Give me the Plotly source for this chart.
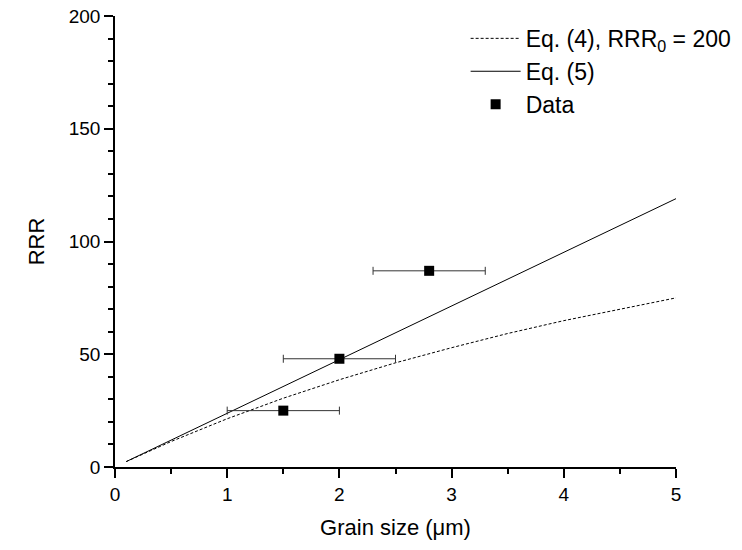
import plotly.graph_objects as go

# Data
eq4_x = [0.1, 0.5, 1.0, 1.5, 2.0, 2.5, 3.0, 3.5, 4.0, 4.5, 5.0]
eq4_y = [2.4, 11.3, 21.4, 30.5, 38.7, 46.2, 52.9, 59.2, 64.9, 70.1, 75.0]
eq5_x = [0.1, 5.0]
eq5_y = [2.4, 119.0]
data_x = [1.5, 2.0, 2.8]
data_y = [25, 48, 87]
data_xerr = [0.5, 0.5, 0.5]

FONT = "Liberation Sans, Arial, sans-serif"

fig = go.Figure()
fig.add_trace(go.Scatter(
    x=eq4_x, y=eq4_y, mode="lines",
    line=dict(color="black", width=1, dash="3px,2px"),
    name="Eq. (4), RRR<sub>0</sub> = 200"))
fig.add_trace(go.Scatter(
    x=eq5_x, y=eq5_y, mode="lines",
    line=dict(color="black", width=1),
    name="Eq. (5)"))
fig.add_trace(go.Scatter(
    x=data_x, y=data_y, mode="markers",
    marker=dict(symbol="square", size=10, color="black"),
    error_x=dict(type="data", array=data_xerr, visible=True,
                 color="#333333", thickness=1, width=4),
    name="Data"))

fig.update_layout(
    width=742, height=550,
    margin=dict(l=115, r=66, t=16, b=83, autoexpand=False),
    paper_bgcolor="white", plot_bgcolor="white",
    font=dict(family=FONT, size=19, color="black"),
    showlegend=True,
    legend=dict(x=0.625, y=0.998, xanchor="left", yanchor="top",
                bgcolor="rgba(0,0,0,0)", font=dict(size=23, family=FONT),
                itemwidth=50, tracegroupgap=0),
)
fig.update_xaxes(
    range=[0, 5], dtick=1, showgrid=False, zeroline=False, automargin=False,
    ticklabeloverflow="allow",
    showline=True, linecolor="black", linewidth=1.5,
    ticks="outside", ticklen=9, tickwidth=1.5, tickcolor="black",
    minor=dict(ticks="outside", ticklen=5, tickwidth=1.5, dtick=0.5, tickcolor="black", showgrid=False),
    tickfont=dict(size=19),
    title=dict(text="Grain size (μm)", font=dict(size=22), standoff=16),
)
fig.update_yaxes(
    range=[0, 200], dtick=50, showgrid=False, zeroline=False, automargin=False,
    ticklabeloverflow="allow",
    showline=True, linecolor="black", linewidth=1.5,
    ticks="outside", ticklen=9, tickwidth=1.5, tickcolor="black",
    minor=dict(ticks="outside", ticklen=5, tickwidth=1.5, dtick=10, tickcolor="black", showgrid=False),
    tickfont=dict(size=19),
    title=dict(text="RRR", font=dict(size=22), standoff=18),
)

fig.write_html("out.html", config={"displayModeBar": False},
               post_script="document.body.style.margin='0';")
